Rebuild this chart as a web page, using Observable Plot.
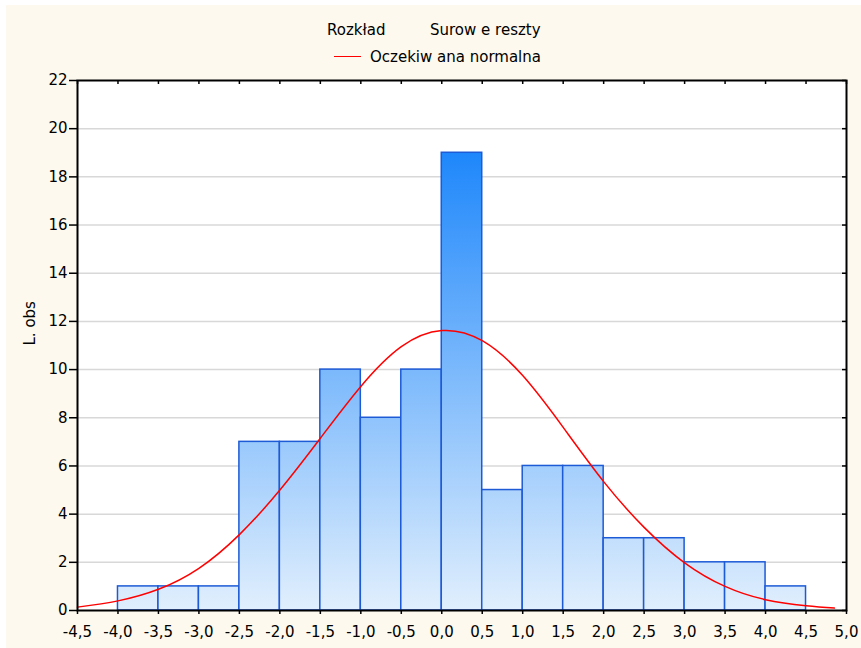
<!DOCTYPE html>
<html><head><meta charset="utf-8">
<script src="https://cdn.jsdelivr.net/npm/d3@7"></script>
<script src="https://cdn.jsdelivr.net/npm/@observablehq/plot@0.6"></script>
<style>
html,body{margin:0;padding:0;background:#fff;}
#bg{position:absolute;left:6px;top:5px;width:855px;height:643px;background:#fdf9ee;}
#wrap{position:absolute;left:0;top:0;width:861px;}
#legend{position:relative;height:70px;font-family:"DejaVu Sans";font-size:15px;color:#000;}
.lt{position:absolute;white-space:nowrap;line-height:1;}
#chart svg{display:block;}
</style></head><body>
<div id="bg"></div>
<div id="wrap">
 <div id="legend">
  <span class="lt" style="left:327px;top:23px">Rozkład</span>
  <span class="lt" style="left:430px;top:23px">Surow e reszty</span>
  <span style="position:absolute;left:334px;top:56px;width:27px;height:0;border-top:1.5px solid #ff0000"></span>
  <span class="lt" style="left:370px;top:50px">Oczekiw ana normalna</span>
 </div>
 <div id="chart"></div>
</div>
<script>
// Histogram bins (left edges, right edges) and counts
const binStart = [-4.0,-3.5,-3.0,-2.5,-2.0,-1.5,-1.0,-0.5,0.0,0.5,1.0,1.5,2.0,2.5,3.0,3.5,4.0];
const binEnd   = [-3.5,-3.0,-2.5,-2.0,-1.5,-1.0,-0.5,0.0,0.5,1.0,1.5,2.0,2.5,3.0,3.5,4.0,4.5];
const counts   = [1,1,1,7,7,10,8,10,19,5,6,6,3,3,2,2,1];

// Expected normal curve
const curveX = [-4.5,-4.0,-3.5,-3.0,-2.5,-2.0,-1.5,-1.0,-0.5,0.0,0.5,1.0,1.5,2.0,2.5,3.0,3.5,4.0,4.5,4.85];
const curveY = [0.14,0.40,0.88,1.75,3.15,5.0,7.15,9.3,10.95,11.62,11.2,9.75,7.6,5.35,3.45,1.98,1.0,0.45,0.2,0.1];

// Axis ticks
const xTicks = [-4.5,-4.0,-3.5,-3.0,-2.5,-2.0,-1.5,-1.0,-0.5,0.0,0.5,1.0,1.5,2.0,2.5,3.0,3.5,4.0,4.5,5.0];
const yTicks = [0,2,4,6,8,10,12,14,16,18,20,22];
const gridVals = [2,4,6,8,10,12,14,16,18,20];
const yLabel = "L. obs";

const bins = counts.map((n,i)=>({x1:binStart[i], x2:binEnd[i], n}));
const curve = curveX.map((x,i)=>({x, y:curveY[i]}));
const fmt = d => d.toFixed(1).replace(".", ",");

const W = 861, H = 578, mT = 10, mB = 38, mL = 77, mR = 15;
const innerW = W - mL - mR, innerH = H - mT - mB;

const chart = Plot.plot({
  width: W, height: H, marginTop: mT, marginBottom: mB, marginLeft: mL, marginRight: mR,
  style: {fontFamily: "DejaVu Sans", fontSize: "15px", background: "transparent", color: "#000"},
  x: {domain: [-4.5, 5], ticks: xTicks},
  y: {domain: [0, 22], ticks: yTicks},
  marks: [
    Plot.frame({fill: "white"}),
    Plot.ruleY(gridVals, {stroke: "#d8d8d8", strokeWidth: 1.5}),
    Plot.rectY(bins, {x1: "x1", x2: "x2", y: "n", fill: "url(#barGrad)", stroke: "#1d5ad6", strokeWidth: 1.5}),
    Plot.line(curve, {x: "x", y: "y", stroke: "#ff0000", strokeWidth: 1.5, curve: "natural"}),
    Plot.tickX(xTicks, {x: d => d, insetBottom: innerH - 4, stroke: "#000", strokeWidth: 1.5}),
    Plot.tickY(yTicks, {y: d => d, insetLeft: innerW - 4, stroke: "#000", strokeWidth: 1.5}),
    Plot.frame({stroke: "#000", strokeWidth: 2}),
    Plot.axisX({ticks: xTicks, tickSize: 4, tickPadding: 12, tickFormat: fmt, label: null, strokeWidth: 1.5}),
    Plot.axisY({ticks: yTicks, tickSize: 8, tickPadding: 2, tickFormat: d => String(d), label: null, strokeWidth: 1.5}),
    Plot.text([yLabel], {frameAnchor: "left", rotate: -90, dx: -47, text: d => d, fontSize: 15})
  ]
});

// gradient in user space tied to the y scale
const ys = chart.scale("y");
const ns = "http://www.w3.org/2000/svg";
const defs = document.createElementNS(ns, "defs");
const lg = document.createElementNS(ns, "linearGradient");
lg.setAttribute("id", "barGrad");
lg.setAttribute("gradientUnits", "userSpaceOnUse");
lg.setAttribute("x1", 0); lg.setAttribute("x2", 0);
lg.setAttribute("y1", ys.apply(19)); lg.setAttribute("y2", ys.apply(0));
[["0", "#1e87fb"], ["1", "#e1effd"]].forEach(([o, c]) => {
  const s = document.createElementNS(ns, "stop");
  s.setAttribute("offset", o); s.setAttribute("stop-color", c);
  lg.appendChild(s);
});
defs.appendChild(lg);
chart.insertBefore(defs, chart.firstChild);

document.getElementById("chart").appendChild(chart);
</script>
</body></html>
